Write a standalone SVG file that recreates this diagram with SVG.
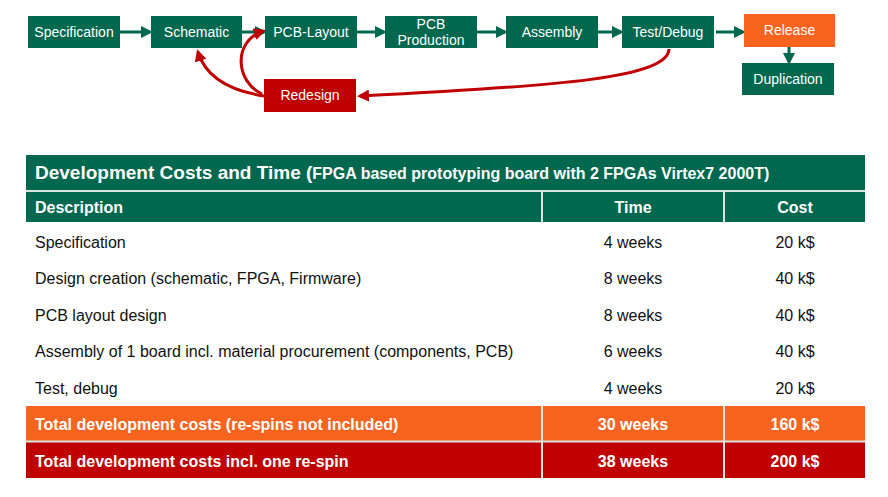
<svg xmlns="http://www.w3.org/2000/svg" width="888" height="497" viewBox="0 0 888 497">
<style>
.g{fill:#00684E}
.o{fill:#F8631E}
.r{fill:#C00000}
.bt{font-family:"Liberation Sans",Arial,sans-serif;font-size:14px;fill:#fff;text-anchor:middle}
.t{font-family:"Liberation Sans",Arial,sans-serif;font-size:16px;fill:#111}
.hb{font-family:"Liberation Sans",Arial,sans-serif;font-size:16px;font-weight:bold;fill:#fff}
.c{text-anchor:middle}
.ga{stroke:#00684E;stroke-width:3;fill:none;marker-end:url(#ag)}
.ra{stroke:#C00000;stroke-width:3;fill:none;marker-end:url(#ar)}
.sep{stroke:#d8e6e0;stroke-width:2}
</style>
<defs>
<marker id="ag" markerWidth="4" markerHeight="4" refX="3" refY="2" orient="auto" markerUnits="strokeWidth"><path d="M0,0 L4,2 L0,4 z" fill="#00684E"/></marker>
<marker id="ar" markerWidth="4" markerHeight="4" refX="3" refY="2" orient="auto" markerUnits="strokeWidth"><path d="M0,0 L4,2 L0,4 z" fill="#C00000"/></marker>
</defs>
<rect width="888" height="497" fill="#fff"/>
<g id="connectors">
<line class="ga" x1="120" y1="32" x2="150" y2="32"/>
<line class="ga" x1="242" y1="32" x2="264" y2="32"/>
<line class="ga" x1="357" y1="32" x2="384" y2="32"/>
<line class="ga" x1="477" y1="32" x2="505" y2="32"/>
<line class="ga" x1="598" y1="32" x2="621" y2="32"/>
<line class="ga" x1="716" y1="32" x2="743" y2="32"/>
<line class="ga" x1="789" y1="47" x2="789" y2="62"/>
<path class="ra" d="M264,96 C225,90 205,75 198,52"/>
<path class="ra" d="M262,94 C236,82 232,42 263,31"/>
<path class="ra" d="M669,49 C668,78 560,86 360,96"/>
</g>
<g id="spec"><rect class="g" x="28" y="16" width="92" height="32"/><text class="bt" x="74" y="37">Specification</text></g>
<g id="schematic"><rect class="g" x="151" y="16" width="91" height="32"/><text class="bt" x="196.5" y="37">Schematic</text></g>
<g id="pcblayout"><rect class="g" x="265" y="16" width="92" height="32"/><text class="bt" x="311" y="37">PCB-Layout</text></g>
<g id="pcbprod"><rect class="g" x="385" y="16" width="92" height="32"/><text class="bt" x="431" y="29">PCB</text><text class="bt" x="431" y="45">Production</text></g>
<g id="assembly"><rect class="g" x="506" y="16" width="92" height="32"/><text class="bt" x="552" y="37">Assembly</text></g>
<g id="testdebug"><rect class="g" x="622" y="16" width="92" height="32"/><text class="bt" x="668" y="37">Test/Debug</text></g>
<g id="release"><rect class="o" x="744" y="14" width="91" height="33"/><text class="bt" x="789.5" y="35">Release</text></g>
<g id="duplication"><rect class="g" x="742" y="63" width="92" height="32"/><text class="bt" x="788" y="84">Duplication</text></g>
<g id="redesign"><rect class="r" x="264" y="79" width="92" height="33"/><text class="bt" x="310" y="100">Redesign</text></g>
<g id="table">
<rect class="g" x="26" y="155" width="839" height="36"/>
<text x="35" y="179" font-family="Liberation Sans,Arial,sans-serif" font-weight="bold" fill="#fff"><tspan font-size="19">Development Costs and Time (</tspan><tspan font-size="16">FPGA based prototyping board with 2 FPGAs Virtex7 2000T)</tspan></text>
<rect class="g" x="26" y="191" width="839" height="31"/>
<line class="sep" x1="26" y1="191" x2="865" y2="191"/>
<line class="sep" x1="542" y1="191" x2="542" y2="222"/>
<line class="sep" x1="724" y1="191" x2="724" y2="222"/>
<text class="hb" x="35" y="213">Description</text>
<text class="hb c" x="633" y="213">Time</text>
<text class="hb c" x="795" y="213">Cost</text>
<text class="t" x="35" y="248">Specification</text><text class="t c" x="633" y="248">4 weeks</text><text class="t c" x="795" y="248">20 k$</text>
<text class="t" x="35" y="284">Design creation (schematic, FPGA, Firmware)</text><text class="t c" x="633" y="284">8 weeks</text><text class="t c" x="795" y="284">40 k$</text>
<text class="t" x="35" y="321">PCB layout design</text><text class="t c" x="633" y="321">8 weeks</text><text class="t c" x="795" y="321">40 k$</text>
<text class="t" x="35" y="357">Assembly of 1 board incl. material procurement (components, PCB)</text><text class="t c" x="633" y="357">6 weeks</text><text class="t c" x="795" y="357">40 k$</text>
<text class="t" x="35" y="394">Test, debug</text><text class="t c" x="633" y="394">4 weeks</text><text class="t c" x="795" y="394">20 k$</text>
<rect class="o" x="26" y="406" width="839" height="35"/>
<rect class="r" x="26" y="442" width="839" height="36"/>
<line class="sep" x1="26" y1="441.5" x2="865" y2="441.5"/>
<line class="sep" x1="542" y1="406" x2="542" y2="478"/>
<line class="sep" x1="724" y1="406" x2="724" y2="478"/>
<text class="hb" x="35" y="430">Total development costs (re-spins not included)</text><text class="hb c" x="633" y="430">30 weeks</text><text class="hb c" x="795" y="430">160 k$</text>
<text class="hb" x="35" y="467">Total development costs incl. one re-spin</text><text class="hb c" x="633" y="467">38 weeks</text><text class="hb c" x="795" y="467">200 k$</text>
</g>
</svg>
